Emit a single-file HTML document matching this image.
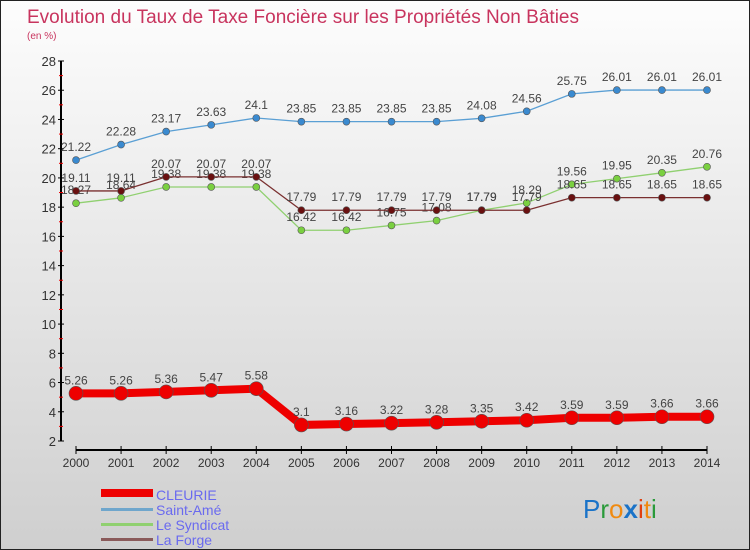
<!DOCTYPE html>
<html><head><meta charset="utf-8"><style>
body{margin:0}
#c{width:750px;height:550px;position:relative;box-sizing:border-box;border:1px solid #222;background:linear-gradient(#fdfdfd,#cfcfcf);font-family:"Liberation Sans",sans-serif;overflow:hidden}
</style></head><body>
<div id="c">
<svg id="s" width="750" height="550" style="position:absolute;left:0;top:0">
<text x="26" y="22" font-size="19" fill="#c8345e" textLength="552">Evolution du Taux de Taxe Foncière sur les Propriétés Non Bâties</text>
<text x="26" y="38" font-size="10" fill="#c8345e">(en %)</text>
<g id="axes"></g><g id="series"></g>
<g>
<rect x="100" y="488" width="52" height="8" fill="#e00"/>
<text x="155" y="499" font-size="14" fill="#6a6aef">CLEURIE</text>
<rect x="100" y="507" width="52" height="3" fill="#6fa6cc"/>
<text x="155" y="514" font-size="14" fill="#6a6aef">Saint-Amé</text>
<rect x="100" y="522" width="52" height="3" fill="#90d070"/>
<text x="155" y="529" font-size="14" fill="#6a6aef">Le Syndicat</text>
<rect x="100" y="537" width="52" height="3" fill="#8a5a5a"/>
<text x="155" y="544" font-size="14" fill="#6a6aef">La Forge</text>
</g>
<text x="582" y="517" font-size="26"><tspan fill="#1a73c8">P</tspan><tspan fill="#2a9a3a">r</tspan><tspan fill="#f08a10">o</tspan><tspan fill="#1a73c8" font-weight="bold">x</tspan><tspan fill="#e04010">i</tspan><tspan fill="#f08a10">t</tspan><tspan fill="#2a9a3a">i</tspan></text>
</svg></div>
<script>
const years=[2000,2001,2002,2003,2004,2005,2006,2007,2008,2009,2010,2011,2012,2013,2014];
const yTicks=[2,4,6,8,10,12,14,16,18,20,22,24,26,28];
const cleurie=[5.26,5.26,5.36,5.47,5.58,3.1,3.16,3.22,3.28,3.35,3.42,3.59,3.59,3.66,3.66];
const saintAme=[21.22,22.28,23.17,23.63,24.1,23.85,23.85,23.85,23.85,24.08,24.56,25.75,26.01,26.01,26.01];
const syndicat=[18.27,18.64,19.38,19.38,19.38,16.42,16.42,16.75,17.08,17.79,18.29,19.56,19.95,20.35,20.76];
const forge=[19.11,19.11,20.07,20.07,20.07,17.79,17.79,17.79,17.79,17.79,17.79,18.65,18.65,18.65,18.65];
const NS="http://www.w3.org/2000/svg";
const X=i=>75+i*(706-75)/(years.length-1);
const Y=v=>440-(v-2)*(380/26);
function mk(t,a,p){const e=document.createElementNS(NS,t);for(const k in a)e.setAttribute(k,a[k]);p.appendChild(e);return e;}
const ax=document.getElementById('axes'),sr=document.getElementById('series');
let e=mk('line',{x1:60,y1:60,x2:60,y2:440,stroke:'#000','stroke-width':2},ax);


yTicks.forEach((t,i)=>{mk('line',{x1:57,x2:63,y1:Y(t),y2:Y(t),stroke:'#000'},ax);
if(i<yTicks.length-1)mk('line',{x1:58,x2:62,y1:Y(t+1),y2:Y(t+1),stroke:'#e00'},ax);
const l=mk('text',{x:55,y:Y(t)+5,'font-size':13,'text-anchor':'end',fill:'#333'},ax);l.textContent=t;

});
e=mk('line',{x1:X(0),y1:449,x2:X(years.length-1),y2:449,stroke:'#000','stroke-width':2},ax);


years.forEach((y,i)=>{mk('line',{x1:X(i),x2:X(i),y1:445,y2:453,stroke:'#000'},ax);
const l=mk('text',{x:X(i),y:466,'font-size':12,'text-anchor':'middle',fill:'#333'},ax);l.textContent=y;

});
function series(d,name,col,w,r,dot){const g=mk('g',{},sr);


mk('polyline',{points:d.map((v,i)=>X(i)+','+Y(v)).join(' '),fill:'none',stroke:col,'stroke-width':w},g);
d.forEach((v,i)=>{const c=mk('circle',{cx:X(i),cy:Y(v),r:r,fill:dot,stroke:'#555','stroke-width':0.6},g);


const t=mk('text',{x:X(i),y:Y(v)-9,'font-size':12,'text-anchor':'middle',fill:'#444'},g);t.textContent=v;

});}
series(syndicat,'le-syndicat','#90d070',1.3,3.5,'#7ad040');
series(forge,'la-forge','#7a3030',1.3,3.5,'#6a1010');
series(saintAme,'saint-ame','#5a9fd4',1.3,3.5,'#3a8ad0');
series(cleurie,'cleurie','#ee0000',8,7,'#ee0000');
</script></body></html>
